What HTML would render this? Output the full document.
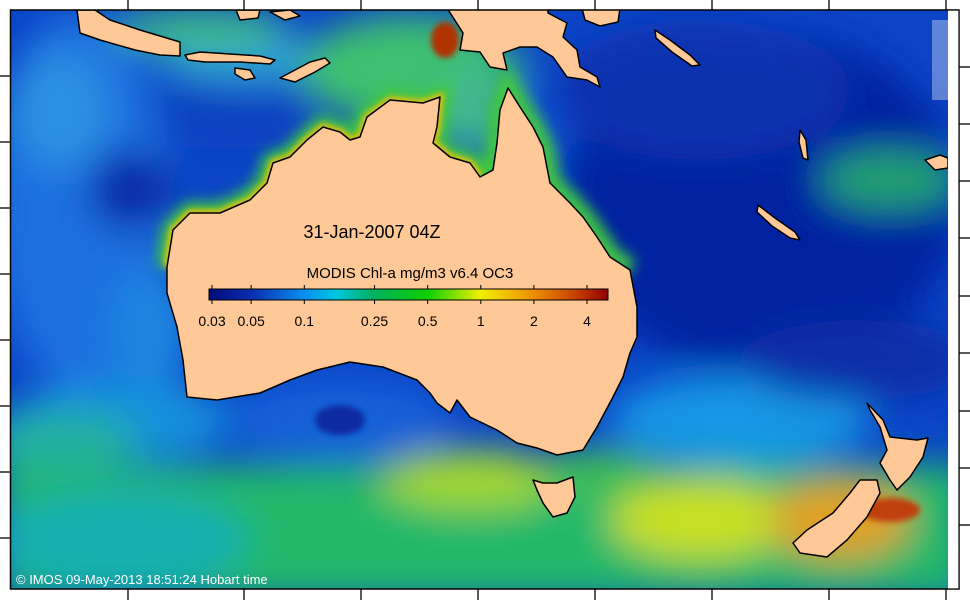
<!DOCTYPE html>
<html><head><meta charset="utf-8">
<style>
html,body{margin:0;padding:0;background:#fff;}
svg{display:block;}
text{font-family:"Liberation Sans",Arial,sans-serif;}
</style></head>
<body>
<svg id="map" width="970" height="600" viewBox="0 0 970 600" xmlns="http://www.w3.org/2000/svg">
<defs>
  <clipPath id="mapclip"><rect x="11" y="10" width="937" height="579"/></clipPath>
  <filter id="blur" x="-20%" y="-20%" width="140%" height="140%"><feGaussianBlur stdDeviation="18"/></filter>
  <filter id="blur2" x="-20%" y="-20%" width="140%" height="140%"><feGaussianBlur stdDeviation="7"/></filter>
  <filter id="blur3" x="-20%" y="-20%" width="140%" height="140%"><feGaussianBlur stdDeviation="3"/></filter>
  <linearGradient id="cbar" x1="209" x2="608" y1="0" y2="0" gradientUnits="userSpaceOnUse">
    <stop offset="0" stop-color="#000a7a"/>
    <stop offset="0.11" stop-color="#0a30b0"/>
    <stop offset="0.24" stop-color="#0a90f0"/>
    <stop offset="0.32" stop-color="#00c8e0"/>
    <stop offset="0.41" stop-color="#00b060"/>
    <stop offset="0.55" stop-color="#10d000"/>
    <stop offset="0.68" stop-color="#f0f000"/>
    <stop offset="0.81" stop-color="#f09000"/>
    <stop offset="0.93" stop-color="#c03800"/>
    <stop offset="1" stop-color="#900000"/>
  </linearGradient>
</defs>

<g clip-path="url(#mapclip)">
  <rect x="11" y="10" width="937" height="579" fill="#0b45c6"/>
  <g filter="url(#blur)">
    <ellipse cx="80" cy="200" rx="90" ry="190" fill="#1a70e0"/>
    <ellipse cx="60" cy="110" rx="50" ry="60" fill="#2a90e0"/>
    <ellipse cx="150" cy="330" rx="40" ry="60" fill="#1f86e0"/>
    <ellipse cx="230" cy="110" rx="80" ry="40" fill="#0c3fc0"/>
    <ellipse cx="130" cy="190" rx="40" ry="40" fill="#0a2aa8"/>
    <ellipse cx="250" cy="60" rx="90" ry="25" fill="#2a9ad8"/>
    <ellipse cx="410" cy="70" rx="110" ry="55" fill="#3cc070"/>
    <ellipse cx="470" cy="110" rx="40" ry="45" fill="#40b890"/>
    <ellipse cx="200" cy="30" rx="90" ry="20" fill="#40c080"/>
    <ellipse cx="560" cy="150" rx="50" ry="90" fill="#1050d0"/>
    <ellipse cx="760" cy="200" rx="200" ry="170" fill="#0424a0"/>
    <ellipse cx="700" cy="90" rx="150" ry="70" fill="#0832b0"/>
    <ellipse cx="890" cy="180" rx="70" ry="30" fill="#20a070"/>
    <ellipse cx="740" cy="420" rx="130" ry="45" fill="#1896e4"/>
    <ellipse cx="860" cy="360" rx="120" ry="40" fill="#0a2ea8"/>
    <ellipse cx="340" cy="420" rx="110" ry="40" fill="#1260d8"/>
    <ellipse cx="120" cy="420" rx="110" ry="40" fill="#1490dc"/>
    <rect x="0" y="465" width="970" height="135" fill="#22b86a"/>
    <ellipse cx="120" cy="540" rx="130" ry="50" fill="#18b0b0"/>
    <ellipse cx="60" cy="440" rx="80" ry="30" fill="#20b0a0"/>
    <ellipse cx="470" cy="480" rx="90" ry="30" fill="#a0d830"/>
    <ellipse cx="700" cy="520" rx="90" ry="40" fill="#c8e020"/>
    <ellipse cx="840" cy="520" rx="70" ry="40" fill="#e0a020"/>
    <ellipse cx="600" cy="470" rx="60" ry="20" fill="#40c050"/>
  </g>
  <g filter="url(#blur3)">
    <ellipse cx="340" cy="420" rx="25" ry="15" fill="#0a2aa0"/>
    <ellipse cx="445" cy="40" rx="14" ry="18" fill="#b03000"/>
    <ellipse cx="890" cy="510" rx="30" ry="12" fill="#c04010"/>
  </g>
  <!-- coastal band -->
  <path filter="url(#blur2)" fill="none" stroke="#40c840" stroke-width="22" d="M167,267 L173,230 L190,213 L220,213 L250,200 L267,183 L273,163 L290,157 L307,140 L323,127 L340,132 L350,140 L360,137 L367,117 L390,100 L423,103 L440,97 L437,127 L433,143 L450,157 L470,163 L480,177 L493,170 L497,143 L500,110 L508,88 L520,107 L533,127 L543,147 L550,183 L570,203 L583,217 L597,237 L610,257 L630,270"/>
  <path d="M167,267 L173,230 L190,213 L220,213 L250,200 L267,183 L273,163 L290,157 L307,140 L323,127 L340,132 L350,140 L360,137 L367,117 L390,100 L423,103 L440,97 L437,127 L433,143 L450,157 L470,163 L480,177" fill="none" stroke="#e8c010" stroke-width="7" filter="url(#blur3)"/>

  <!-- land -->
  <g fill="#ffc896" stroke="#000" stroke-width="1.5" stroke-linejoin="round">
    <path d="M167,267 L173,230 L190,213 L220,213 L250,200 L267,183 L273,163 L290,157 L307,140 L323,127 L340,132 L350,140 L360,137 L367,117 L390,100 L423,103 L440,97 L437,127 L433,143 L450,157 L470,163 L480,177 L493,170 L497,143 L500,110 L508,88 L520,107 L533,127 L543,147 L550,183 L570,203 L583,217 L597,237 L610,257 L630,270 L637,307 L637,337 L630,353 L623,377 L613,397 L597,427 L583,450 L557,455 L537,448 L517,443 L497,430 L470,417 L457,400 L450,413 L437,403 L430,393 L417,380 L383,367 L350,362 L317,370 L290,380 L260,393 L217,400 L187,397 L183,360 L177,327 L167,293 Z"/>
    <path d="M533,480 L543,483 L557,483 L573,477 L575,497 L567,513 L553,517 L543,503 L537,490 Z"/>
    <path d="M447,8 L463,33 L460,50 L480,52 L490,67 L507,70 L503,53 L520,47 L537,47 L553,57 L567,77 L587,80 L600,87 L597,77 L580,67 L577,50 L563,37 L567,23 L548,13 L548,8 Z"/>
    <path d="M582,8 L620,8 L618,22 L600,26 L585,20 Z"/>
    <path d="M867,403 L883,420 L890,437 L917,440 L928,438 L923,457 L910,477 L897,490 L890,480 L880,463 L887,450 L880,427 L870,410 Z"/>
    <path d="M860,480 L877,480 L880,493 L867,517 L847,540 L827,557 L800,553 L793,543 L807,530 L833,513 L850,493 Z"/>
    <path d="M77,10 L80,33 L100,40 L135,50 L160,55 L180,56 L180,42 L160,36 L140,30 L110,20 L95,10 Z"/>
    <path d="M185,55 L200,52 L230,54 L260,56 L275,60 L270,64 L240,62 L205,62 L188,60 Z"/>
    <path d="M235,68 L250,70 L255,78 L245,80 L235,74 Z"/>
    <path d="M280,78 L295,70 L310,62 L325,58 L330,63 L315,72 L295,82 Z"/>
    <path d="M236,10 L260,10 L258,18 L240,20 Z"/>
    <path d="M270,12 L290,10 L300,16 L285,20 Z"/>
    <path d="M758,205 L775,218 L795,232 L800,240 L790,238 L772,226 L757,212 Z"/>
    <path d="M800,130 L806,140 L808,160 L803,158 L799,142 Z"/>
    <path d="M925,160 L940,155 L948,158 L948,168 L935,170 Z"/>
    <path d="M655,30 L670,40 L690,55 L700,65 L692,66 L672,52 L656,38 Z"/>
  </g>
  <rect x="932" y="20" width="16" height="80" fill="#ffffff" opacity="0.35"/>
</g>

<!-- frame -->
<g stroke="#000" stroke-width="1.5" fill="none">
  <rect x="10.5" y="10" width="948.5" height="579"/>
</g>
<rect x="948" y="10.8" width="10.3" height="577.5" fill="#fff"/>
<g id="ticks" stroke="#000" stroke-width="1.3"></g>

<!-- labels -->
<text x="372" y="238" font-size="18" text-anchor="middle" fill="#000">31-Jan-2007 04Z</text>
<text x="410" y="278" font-size="15" text-anchor="middle" fill="#000">MODIS Chl-a mg/m3 v6.4 OC3</text>
<rect x="209" y="289" width="399" height="11" fill="url(#cbar)" stroke="#000" stroke-width="1"/>
<g id="cbticks"></g>
<text x="16" y="584" font-size="13" fill="#fff">© IMOS 09-May-2013 18:51:24 Hobart time</text>
</svg>
<script>
const cbValues = [0.03, 0.05, 0.1, 0.25, 0.5, 1, 2, 4];
const cbLabels = ["0.03", "0.05", "0.1", "0.25", "0.5", "1", "2", "4"];
const topTicks = [128, 244, 361, 478, 595, 712, 829, 946];
const leftTicks = [76, 142, 208, 274, 340, 406, 472, 538];
const rightTicks = [67, 124, 181, 238, 296, 353, 411, 468, 525];

const NS = "http://www.w3.org/2000/svg";
function logX(v){ return 212 + (Math.log10(v) - Math.log10(0.03)) * 176.5; }

const cb = document.getElementById('cbticks');
cbValues.forEach((v, i) => {
  const x = logX(v);
  const t1 = document.createElementNS(NS, 'line');
  
  
  t1.setAttribute('x1', x); t1.setAttribute('x2', x);
  t1.setAttribute('y1', 285); t1.setAttribute('y2', 289);
  t1.setAttribute('stroke', '#000');
  cb.appendChild(t1);
  const t2 = document.createElementNS(NS, 'line');
  
  
  t2.setAttribute('x1', x); t2.setAttribute('x2', x);
  t2.setAttribute('y1', 300); t2.setAttribute('y2', 304);
  t2.setAttribute('stroke', '#000');
  cb.appendChild(t2);
  const tx = document.createElementNS(NS, 'text');
  
  
  tx.setAttribute('x', x); tx.setAttribute('y', 326);
  tx.setAttribute('font-size', '14');
  tx.setAttribute('text-anchor', 'middle');
  tx.textContent = cbLabels[i];
  cb.appendChild(tx);
});

const tk = document.getElementById('ticks');
function addLine(x1, y1, x2, y2){
  const l = document.createElementNS(NS, 'line');
  
  
  l.setAttribute('x1', x1); l.setAttribute('y1', y1);
  l.setAttribute('x2', x2); l.setAttribute('y2', y2);
  tk.appendChild(l);
}
topTicks.forEach(x => { addLine(x, 0, x, 10); addLine(x, 589, x, 600); });
leftTicks.forEach(y => addLine(0, y, 10, y));
rightTicks.forEach(y => addLine(959, y, 970, y));
</script>
</body></html>
